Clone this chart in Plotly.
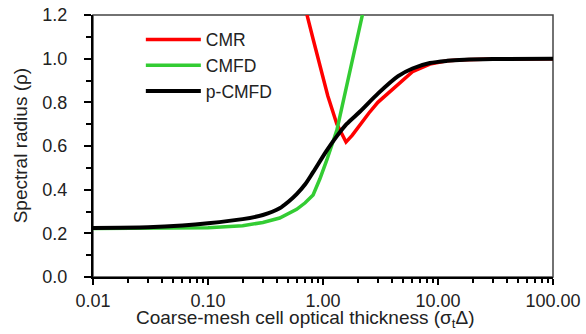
import plotly.graph_objects as go

# Data
cmfd_x = [0.01, 0.03, 0.06, 0.1, 0.2, 0.3, 0.42, 0.59, 0.7, 0.82, 0.94, 1.08, 1.32, 1.55, 1.82, 2.2, 2.5]
cmfd_y = [0.222, 0.222, 0.224, 0.226, 0.235, 0.25, 0.27, 0.31, 0.34, 0.376, 0.45, 0.536, 0.673, 0.84, 1.01, 1.2, 1.4]

cmr_x = [0.6, 0.726, 0.82, 0.94, 1.1, 1.32, 1.585, 1.8, 2.1, 2.5, 3.0, 4.4, 6.0, 8.5, 12, 17, 30, 100]
cmr_y = [1.45, 1.2, 1.09, 0.97, 0.83, 0.70, 0.618, 0.65, 0.70, 0.75, 0.80, 0.88, 0.94, 0.975, 0.99, 0.995, 0.998, 1.0]

pcmfd_x = [0.01, 0.03, 0.06, 0.1, 0.2, 0.3, 0.42, 0.5, 0.59, 0.7, 0.82, 1.08, 1.32, 1.6, 2.1, 3.0, 4.5, 6.0, 8.5, 12, 17, 30, 100]
pcmfd_y = [0.225, 0.228, 0.236, 0.246, 0.265, 0.284, 0.315, 0.345, 0.38, 0.425, 0.48, 0.58, 0.645, 0.70, 0.758, 0.84, 0.92, 0.955, 0.98, 0.99, 0.995, 0.998, 1.0]

x_tickvals = [0.01, 0.1, 1, 10, 100]
x_ticktext = ["0.01", "0.10", "1.00", "10.00", "100.00"]
x_minor = [m * d for d in [0.01, 0.1, 1, 10] for m in range(2, 10)]

x_title = "Coarse-mesh cell optical thickness (σ<sub>t</sub>Δ)"
y_title = "Spectral radius (ρ)"

fig = go.Figure()
fig.add_trace(go.Scatter(x=cmr_x, y=cmr_y, mode="lines", name="CMR",
                         line=dict(color="#ff0000", width=3.5)))
fig.add_trace(go.Scatter(x=cmfd_x, y=cmfd_y, mode="lines", name="CMFD",
                         line=dict(color="#33cc33", width=3.5)))
fig.add_trace(go.Scatter(x=pcmfd_x, y=pcmfd_y, mode="lines", name="p-CMFD",
                         line=dict(color="#000000", width=4, shape="spline", smoothing=0.8)))

family = "Arial, Liberation Sans, sans-serif"
font = dict(family=family, size=19, color="#222222")
tick_font = dict(family=family, size=18, color="#222222")
legend_font = dict(family=family, size=17.5, color="#222222")

fig.update_layout(
    width=586, height=334,
    margin=dict(l=93, r=33, t=15, b=57, autoexpand=False),
    paper_bgcolor="white", plot_bgcolor="white",
    font=font,
    showlegend=True,
    legend=dict(x=0.104, y=0.975, xanchor="left", yanchor="top",
                bgcolor="rgba(0,0,0,0)", font=legend_font, itemwidth=55,
                tracegroupgap=0),
    xaxis=dict(type="log", range=[-2, 2], tickvals=x_tickvals, ticktext=x_ticktext,
               showgrid=False, zeroline=False, showline=True, linecolor="black",
               linewidth=2, ticks="outside", ticklen=6, tickwidth=1.5, tickcolor="black",
               ticklabelstandoff=0, automargin=False,
               minor=dict(tickvals=x_minor, ticks="outside", ticklen=4, tickwidth=1.5,
                          tickcolor="black", showgrid=False),
               tickfont=tick_font),
    yaxis=dict(range=[0, 1.2], dtick=0.2, tickformat=".1f",
               showgrid=False, zeroline=False, showline=True, linecolor="black",
               linewidth=2, ticks="outside", ticklen=7, tickwidth=1.5, tickcolor="black",
               ticklabelstandoff=13, automargin=False,
               minor=dict(dtick=0.1, ticks="outside", ticklen=5, tickwidth=1.5,
                          tickcolor="black", showgrid=False),
               tickfont=tick_font),
    annotations=[
        dict(text=x_title, xref="paper", yref="paper", x=0.461, y=-0.162,
             xanchor="center", yanchor="middle", showarrow=False, font=font),
        dict(text=y_title, xref="paper", yref="paper", x=-0.158, y=0.5,
             xanchor="center", yanchor="middle", showarrow=False, font=font,
             textangle=-90),
    ],
)
fig.add_shape(type="rect", xref="paper", yref="paper", x0=0, y0=0, x1=1, y1=1,
              line=dict(color="#444444", width=1.5), layer="below")

fig.write_html("out.html", config={"displayModeBar": False},
               post_script="document.body.style.margin='0';document.body.style.padding='0';")
